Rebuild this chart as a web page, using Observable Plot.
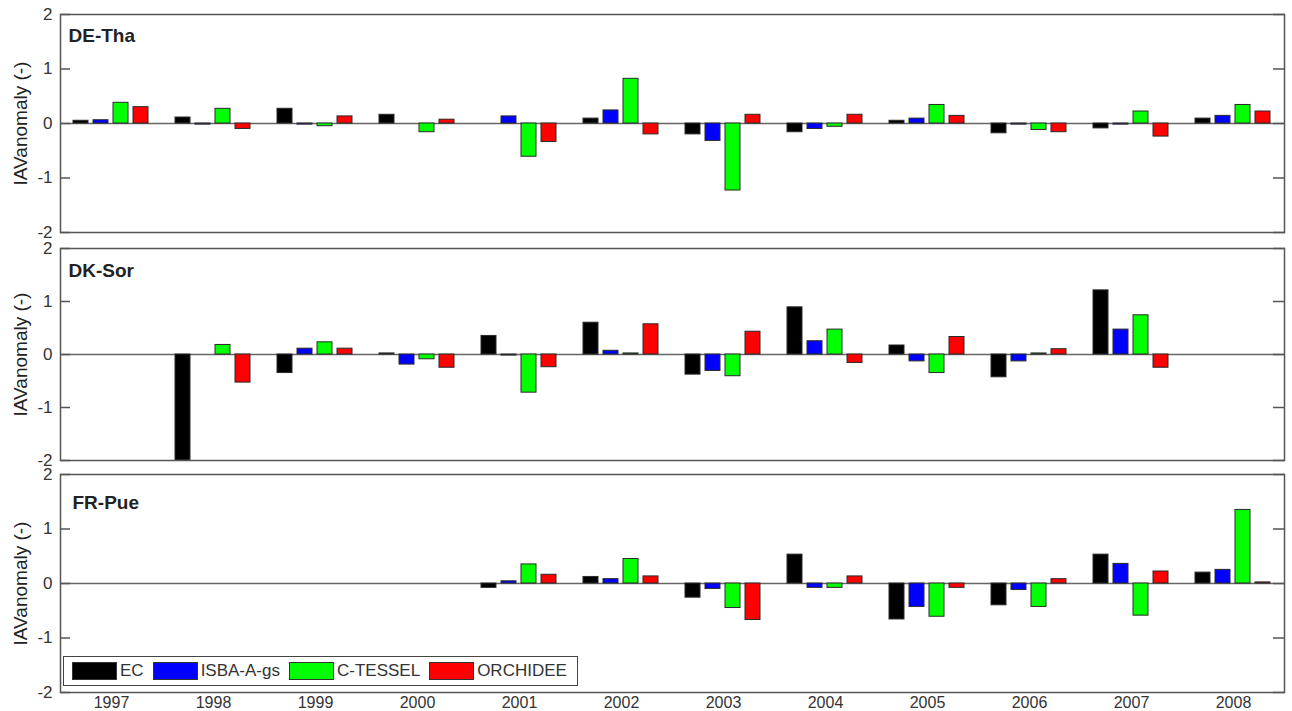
<!DOCTYPE html>
<html>
<head>
<meta charset="utf-8">
<script src="https://cdn.jsdelivr.net/npm/d3@7"></script>
<script src="https://cdn.jsdelivr.net/npm/@observablehq/plot@0.6"></script>
<style>
  body { margin: 0; background: #fff; font-family: "Liberation Sans", Arial, sans-serif; }
  #chart { position: relative; width: 1292px; height: 711px; overflow: hidden; }
  #chart svg { display: block; }
  .legend { position: absolute; left: 63px; top: 656px; width: 515px; height: 30px; box-sizing: border-box;
            border: 1.5px solid #444; background: #fff; display: flex; align-items: center; padding-left: 8px;
            font-size: 17px; color: #333; }
  .legend .sw { width: 43px; height: 16px; border: 1px solid #333; margin-right: 3px; flex: none; }
  .legend .lb { margin-right: 9px; white-space: nowrap; }
</style>
</head>
<body>
<div id="chart"></div>
<script>
// ---- data ----
const years = ["1997","1998","1999","2000","2001","2002","2003","2004","2005","2006","2007","2008"];
const models = ["EC", "ISBA-A-gs", "C-TESSEL", "ORCHIDEE"];
const modelColors = ["#000000", "#0000ff", "#00ff00", "#ff0000"];
const sites = ["DE-Tha", "DK-Sor", "FR-Pue"];
const yTicks = [-2, -1, 0, 1, 2];
const yLabel = "IAVanomaly (-)";

// DE-Tha
const deThaEC    = [0.05, 0.11, 0.27, 0.16, null, 0.09, -0.20, -0.16, 0.05, -0.18, -0.09, 0.09];
const deThaISBA  = [0.06, -0.02, -0.02, null, 0.13, 0.24, -0.32, -0.10, 0.09, -0.02, -0.02, 0.14];
const deThaCTES  = [0.38, 0.27, -0.05, -0.16, -0.61, 0.82, -1.23, -0.06, 0.34, -0.12, 0.22, 0.34];
const deThaORCH  = [0.30, -0.10, 0.13, 0.07, -0.34, -0.20, 0.16, 0.16, 0.14, -0.16, -0.24, 0.22];
// DK-Sor
const dkSorEC    = [null, -2.0, -0.35, 0.02, 0.35, 0.60, -0.38, 0.89, 0.17, -0.43, 1.21, null];
const dkSorISBA  = [null, null, 0.11, -0.19, -0.02, 0.07, -0.31, 0.25, -0.13, -0.13, 0.47, null];
const dkSorCTES  = [null, 0.18, 0.23, -0.09, -0.72, 0.02, -0.41, 0.47, -0.35, 0.02, 0.74, null];
const dkSorORCH  = [null, -0.53, 0.11, -0.25, -0.24, 0.57, 0.43, -0.16, 0.33, 0.10, -0.25, null];
// FR-Pue
const frPueEC    = [null, null, null, null, -0.08, 0.12, -0.26, 0.53, -0.66, -0.40, 0.53, 0.20];
const frPueISBA  = [null, null, null, null, 0.04, 0.08, -0.10, -0.08, -0.43, -0.12, 0.36, 0.25];
const frPueCTES  = [null, null, null, null, 0.35, 0.45, -0.45, -0.08, -0.61, -0.43, -0.59, 1.35];
const frPueORCH  = [null, null, null, null, 0.16, 0.13, -0.67, 0.13, -0.08, 0.08, 0.22, 0.02];

const siteSeries = [
  [deThaEC, deThaISBA, deThaCTES, deThaORCH],
  [dkSorEC, dkSorISBA, dkSorCTES, dkSorORCH],
  [frPueEC, frPueISBA, frPueCTES, frPueORCH]
];

// ---- layout per panel ----
const panels = [
  {height: 240, marginTop: 14, marginBottom: 8, showX: false, ldx: 8, ldy: 14},
  {height: 226, marginTop: 8, marginBottom: 6, showX: false, ldx: 8, ldy: 15},
  {height: 245, marginTop: 8, marginBottom: 19, showX: true, ldx: 12, ldy: 21}
];

const font = '"Liberation Sans", Arial, sans-serif';
const chart = document.getElementById("chart");

sites.forEach((site, si) => {
  // keep every (year, model) row, missing values stay null so each year facet exists
  const rows = [];
  models.forEach((m, mi) => {
    years.forEach((yr, yi) => {
      rows.push({site, model: m, year: yr, value: siteSeries[si][mi][yi]});
    });
  });
  const p = panels[si];
  const marks = [
    Plot.ruleY([0], {stroke: "#666", strokeWidth: 1.5}),
    Plot.barY(rows, {fx: "year", x: "model", y: "value", fill: "model", stroke: "#2a2a2a", strokeWidth: 1, clip: true}),
    Plot.frame({facet: "super", stroke: "#555", strokeWidth: 1.5}),
    Plot.axisY(yTicks, {anchor: "left", facetAnchor: "left", tickSize: -10, text: null, stroke: "#555", strokeWidth: 1.5, label: null}),
    Plot.axisY(yTicks, {anchor: "right", facetAnchor: "right", tickSize: -12, text: null, stroke: "#555", strokeWidth: 1.5, label: null}),
    Plot.axisY(yTicks, {anchor: "left", facetAnchor: "left", tickSize: 0, tickPadding: 8, fontSize: 17, fill: "#333",
      tickFormat: d => String(d), label: null}),
    Plot.text([yLabel], {facet: "super", frameAnchor: "left", text: d => d, rotate: -90, dx: -40,
      textAnchor: "middle", lineAnchor: "middle", fontSize: 19, fill: "#222"}),
    Plot.text([site], {facet: "super", frameAnchor: "top-left", text: d => d, dx: p.ldx, dy: p.ldy,
      lineAnchor: "top", fontSize: 19, fontWeight: "bold", fill: "#222"})
  ];
  if (p.showX) {
    marks.push(Plot.axisFx({anchor: "bottom", tickSize: 0, tickPadding: 4, fontSize: 16, fill: "#333", label: null}));
  }
  const svg = Plot.plot({
    width: 1292,
    height: p.height,
    marginLeft: 55,
    marginRight: 3,
    marginTop: p.marginTop,
    marginBottom: p.marginBottom,
    style: {fontFamily: font, fontSize: "17px", color: "#333", background: "#fff", overflow: "visible"},
    fx: {domain: years, padding: 0, axis: null, label: null},
    x: {domain: models, paddingInner: 0.23, paddingOuter: 0.6, axis: null},
    y: {domain: [-2, 2], axis: null},
    color: {domain: models, range: modelColors},
    marks
  });
  chart.appendChild(svg);
});

// ---- legend (inside bottom panel) ----
const legend = document.createElement("div");
legend.className = "legend";
models.forEach((m, i) => {
  const sw = document.createElement("span");
  sw.className = "sw";
  sw.style.background = modelColors[i];
  const lb = document.createElement("span");
  lb.className = "lb";
  lb.textContent = m;
  legend.appendChild(sw);
  legend.appendChild(lb);
});
chart.appendChild(legend);
</script>
</body>
</html>
